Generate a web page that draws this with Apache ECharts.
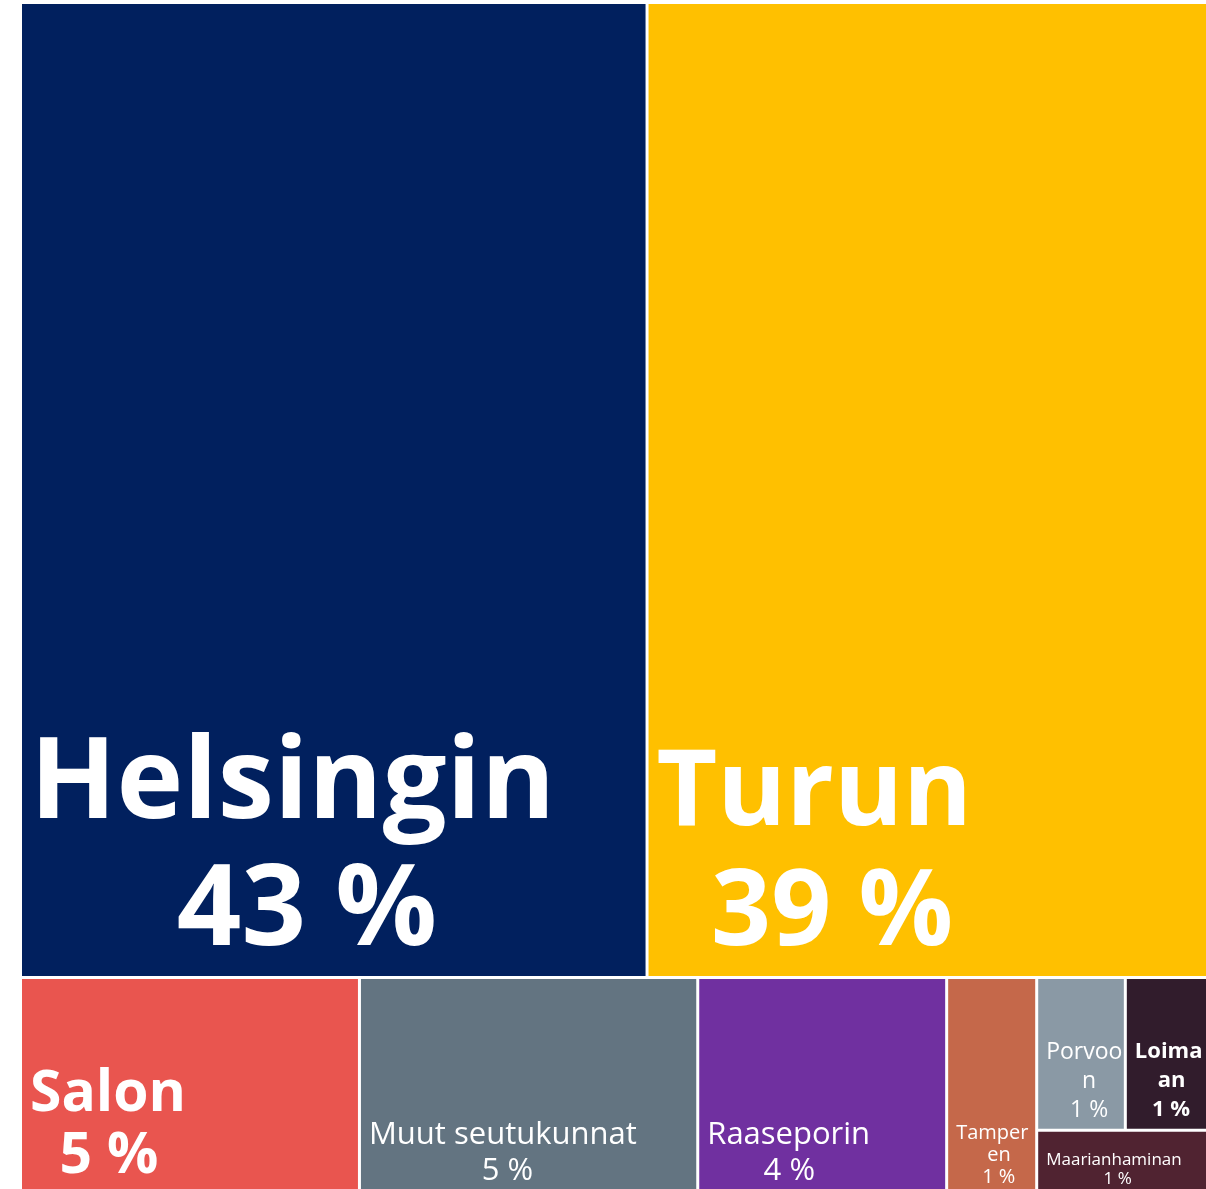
<!DOCTYPE html>
<html>
<head>
<meta charset="utf-8">
<script src="https://cdn.jsdelivr.net/npm/echarts@6/dist/echarts.min.js"></script>
<style>
    html, body { margin: 0; padding: 0; background: #fff; }
    #chart { width: 1206px; height: 1189px; }
</style>
</head>
<body>
<div id="chart"></div>
<script>
const regions = ['Helsingin', 'Turun', 'Salon', 'Muut seutukunnat', 'Raaseporin', 'Tampereen', 'Porvoon', 'Loimaan', 'Maarianhaminan']
const shares = [43.32, 38.75, 5.12, 5.11, 3.76, 1.36, 0.96, 0.89, 0.73]
// how the tiles are grouped (indexes into regions), so the layout keeps the same rows
const rows = [[0, 1], [2, 3, 4, 5, [6, 7, 8]]]
// names that the narrow tiles break on two lines
const wrapped = { 'Tampereen': ['Tampere', 'en'], 'Porvoon': ['Porvoo', 'n'], 'Loimaan': ['Loima', 'an'] }

const colors = ['#01205E', '#FFC000', '#E9554F', '#637481', '#7030A0', '#C5684A', '#8A99A5', '#311C2C', '#502331']
const FONT = '"Open Sans", "Noto Sans", sans-serif'
const labelStyles = {
    'Helsingin': { size: 113, weight: 700, lh: 127, pb: 0 },
    'Turun': { size: 105, weight: 700, lh: 120, pb: 1 },
    'Salon': { size: 57, weight: 700, lh: 62, pb: 1 },
    'Muut seutukunnat': { size: 31, weight: 400, lh: 36, pb: 0 },
    'Raaseporin': { size: 31, weight: 400, lh: 36, pb: 0 },
    'Tampereen': { size: 20, weight: 400, lh: 22, pb: 1 },
    'Porvoon': { size: 23, weight: 400, lh: 29, pb: 4 },
    'Loimaan': { size: 22, weight: 700, lh: 29, pb: 4 },
    'Maarianhaminan': { size: 17, weight: 400, lh: 19, pb: 0 }
}

const ctx = document.createElement('canvas').getContext('2d')
const measure = (s, font) => { ctx.font = font; return ctx.measureText(s).width }

// lines centred under the widest one (a touch to the right), block anchored bottom-left
function labelText(p) {
    const st = labelStyles[p.name]
    if (!st) return ''
    const font = `${st.weight} ${st.size}px ${FONT}`
    const lines = (wrapped[p.name] || [p.name]).concat(Math.round(p.value) + ' %')
    const widest = Math.max(...lines.map(l => measure(l, font)))
    const space = measure(' ', font)
    return lines.map(l => {
        const w = measure(l, font)
        const n = w < widest ? Math.max(0, Math.round((widest - w) / 2 / space + 0.5)) : 0
        return ' '.repeat(n) + l
    }).join('\n')
}

function build(item) {
    if (Array.isArray(item)) return { name: '', children: item.map(build) }
    const name = regions[item]
    const st = labelStyles[name]
    return {
        name,
        value: shares[item],
        itemStyle: { color: colors[item] },
        label: { fontSize: st.size, fontWeight: st.weight, lineHeight: st.lh, padding: [0, 0, st.pb, 8] }
    }
}

const myChart = echarts.init(document.getElementById('chart'))
myChart.setOption({
    animation: false,
    series: [{
        type: 'treemap',
        left: 22,
        top: 4,
        right: 0,
        bottom: 0,
        roam: false,
        nodeClick: false,
        sort: false,
        squareRatio: 1,
        breadcrumb: { show: false },
        itemStyle: { borderWidth: 0, gapWidth: 3, borderColor: '#fff' },
        label: {
            show: true,
            position: 'insideBottomLeft',
            distance: 0,
            color: '#fff',
            fontFamily: FONT,
            overflow: 'truncate',
            ellipsis: '',
            formatter: labelText
        },
        data: rows.map(build)
    }]
})
</script>
</body>
</html>
